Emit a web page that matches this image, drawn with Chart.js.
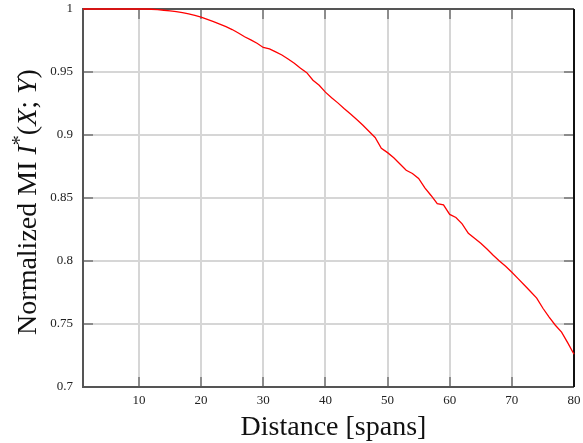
<!DOCTYPE html>
<html>
<head>
<meta charset="utf-8">
<script src="https://cdn.jsdelivr.net/npm/chart.js@4/dist/chart.umd.min.js"></script>
<style>
  html, body { margin: 0; padding: 0; background: #fff; }
</style>
</head>
<body>
<canvas id="c" width="583" height="443"></canvas>
<script>
// ── Data ────────────────────────────────────────────────────
const distances = [
  1, 2, 3, 4, 5, 6, 7, 8, 9, 10,
  11, 12, 13, 14, 15, 16, 17, 18, 19, 20,
  21, 22, 23, 24, 25, 26, 27, 28, 29, 30,
  31, 32, 33, 34, 35, 36, 37, 38, 39, 40,
  41, 42, 43, 44, 45, 46, 47, 48, 49, 50,
  51, 52, 53, 54, 55, 56, 57, 58, 59, 60,
  61, 62, 63, 64, 65, 66, 67, 68, 69, 70,
  71, 72, 73, 74, 75, 76, 77, 78, 79, 80
];
const normalizedMI = [
  1, 1, 1, 1, 1, 1, 1, 1, 1, 1,
  1, 0.9998, 0.9995, 0.999, 0.9985, 0.998, 0.9972, 0.9962, 0.995, 0.9935,
  0.9918, 0.99, 0.988, 0.986, 0.9837, 0.981, 0.978, 0.9755, 0.9728, 0.9695,
  0.9683, 0.966, 0.9635, 0.9603, 0.957, 0.953, 0.9495, 0.9435, 0.9395, 0.934,
  0.9295, 0.9255, 0.921, 0.9168, 0.9125, 0.908, 0.903, 0.898, 0.8895, 0.886,
  0.882, 0.877, 0.872, 0.8695, 0.8655, 0.858, 0.852, 0.8455, 0.8445, 0.837,
  0.8345, 0.8295, 0.822, 0.818, 0.814, 0.8095, 0.8045, 0.8, 0.7958, 0.791,
  0.786, 0.781, 0.7758, 0.7705, 0.7625, 0.7555, 0.749, 0.7435, 0.735, 0.726
];
const xTicks = [10, 20, 30, 40, 50, 60, 70, 80];
const yTicks = [0.7, 0.75, 0.8, 0.85, 0.9, 0.95, 1];
const xTitle = "Distance [spans]";
// y title pieces: [text, italic, superscript]
const yTitleParts = [
  ["Normalized MI ", false, false],
  ["I", true, false],
  ["*", false, true],
  ["(", false, false],
  ["X", true, false],
  ["; ", false, false],
  ["Y", true, false],
  [")", false, false]
];

const SERIF = "'Liberation Serif', 'Times New Roman', serif";
const TITLE_SIZE = 28;

// ── Frame, inner tick marks and axis titles ─────────────────
const framePlugin = {
  id: "frame",
  beforeDatasetsDraw(chart) {
    const { ctx, chartArea: a, scales } = chart;
    ctx.save();
    // inner tick marks
    ctx.strokeStyle = "#8c8c8c";
    ctx.lineWidth = 2;
    const tl = 10;
    ctx.beginPath();
    xTicks.forEach((v) => {
      const px = Math.round(scales.x.getPixelForValue(v));
      ctx.moveTo(px, a.bottom); ctx.lineTo(px, a.bottom - tl);
      ctx.moveTo(px, a.top); ctx.lineTo(px, a.top + tl);
    });
    yTicks.forEach((v) => {
      const py = Math.round(scales.y.getPixelForValue(v));
      ctx.moveTo(a.left, py); ctx.lineTo(a.left + tl, py);
      ctx.moveTo(a.right, py); ctx.lineTo(a.right - tl, py);
    });
    ctx.stroke();
    // frame
    ctx.lineWidth = 2;
    ctx.strokeStyle = "#555";
    ctx.beginPath();
    ctx.moveTo(a.right, a.top); ctx.lineTo(a.left, a.top);
    ctx.lineTo(a.left, a.bottom); ctx.lineTo(a.right, a.bottom);
    ctx.stroke();
    ctx.strokeStyle = "#111";
    ctx.beginPath();
    ctx.moveTo(a.right, a.top); ctx.lineTo(a.right, a.bottom);
    ctx.stroke();
    ctx.restore();
  },
  afterDraw(chart) {
    const { ctx, chartArea: a } = chart;
    ctx.save();
    ctx.fillStyle = "#111";
    // x title
    ctx.font = `${TITLE_SIZE}px ${SERIF}`;
    ctx.textAlign = "center";
    ctx.textBaseline = "alphabetic";
    ctx.fillText(xTitle, (a.left + a.right) / 2 + 5, 435);
    // y title (mixed italic)
    const fontFor = (it, sup) =>
      `${it ? "italic " : ""}${sup ? Math.round(TITLE_SIZE * 0.7) : TITLE_SIZE}px ${SERIF}`;
    let total = 0;
    const widths = yTitleParts.map(([t, it, sup]) => {
      ctx.font = fontFor(it, sup);
      const w = ctx.measureText(t).width;
      total += w;
      return w;
    });
    ctx.translate(36, (a.top + a.bottom) / 2 + 4);
    ctx.rotate(-Math.PI / 2);
    ctx.textAlign = "left";
    let x = -total / 2;
    yTitleParts.forEach(([t, it, sup], i) => {
      ctx.font = fontFor(it, sup);
      ctx.fillText(t, x, sup ? -TITLE_SIZE * 0.36 : 0);
      x += widths[i];
    });
    ctx.restore();
  }
};

// ── Chart ───────────────────────────────────────────────────
const points = distances.map((d, i) => ({ x: d, y: normalizedMI[i] }));

new Chart(document.getElementById("c").getContext("2d"), {
  type: "line",
  data: {
    datasets: [{
      data: points,
      borderColor: "#ff0000",
      borderWidth: 1.3,
      pointRadius: 0,
      tension: 0,
      fill: false,
      clip: 3
    }]
  },
  options: {
    responsive: false,
    animation: false,
    devicePixelRatio: 1,
    layout: { padding: { top: 9, right: 9, left: 0, bottom: 0 } },
    plugins: { legend: { display: false }, tooltip: { enabled: false } },
    scales: {
      x: {
        type: "linear",
        min: 1,
        max: 80,
        afterBuildTicks: (s) => { s.ticks = xTicks.map((v) => ({ value: v })); },
        afterFit: (s) => { s.height = 56; s.paddingLeft = 0; s.paddingRight = 0; },
        grid: { color: "#d6d6d6", lineWidth: 2, drawTicks: false },
        border: { display: false },
        ticks: {
          color: "#222",
          font: { family: SERIF, size: 13 },
          padding: 6,
          maxRotation: 0,
          callback: (v) => String(v)
        }
      },
      y: {
        min: 0.7,
        max: 1,
        afterBuildTicks: (s) => { s.ticks = yTicks.map((v) => ({ value: v })); },
        afterFit: (s) => { s.width = 83; s.paddingTop = 0; s.paddingBottom = 0; },
        grid: { color: "#d6d6d6", lineWidth: 2, drawTicks: false },
        border: { display: false },
        ticks: {
          color: "#222",
          font: { family: SERIF, size: 13 },
          padding: 10,
          callback: (v) => String(+v.toFixed(2))
        }
      }
    }
  },
  plugins: [framePlugin]
});
</script>
</body>
</html>
